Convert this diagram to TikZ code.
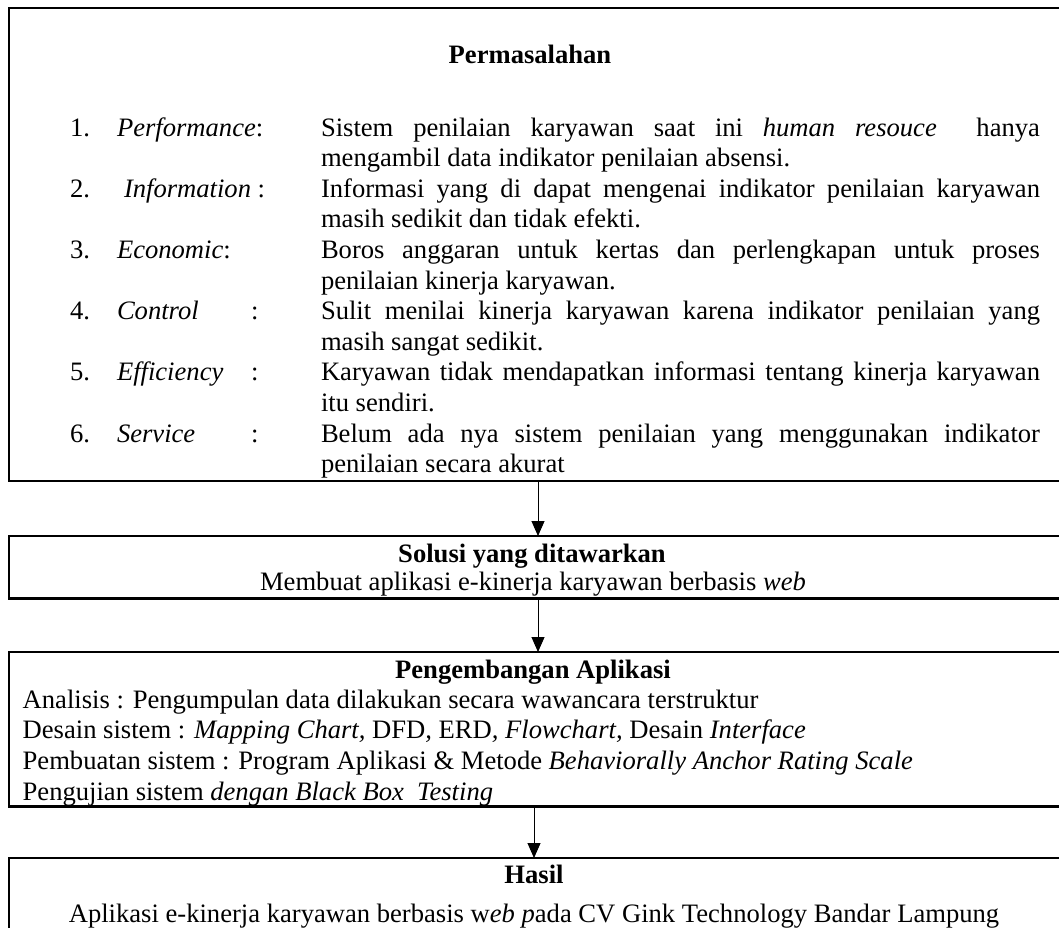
\documentclass[tikz,border=0pt]{standalone}
\usepackage{fontspec}
\setmainfont{Liberation Serif}
\usetikzlibrary{arrows.meta}
\begin{document}
\begin{tikzpicture}[x=1pt,y=-1pt,
  box/.style={draw,line width=2.2pt,anchor=north west,inner sep=0pt,outer sep=0pt},
  txt/.style={inner sep=0pt,outer sep=0pt,anchor=base west,font=\fontsize{26.6}{30.6}\selectfont},
  ctxt/.style={txt,anchor=base},
  btxt/.style={ctxt,font=\fontsize{26.6}{30.6}\selectfont\bfseries},
  arr/.style={line width=1pt,-{Triangle[width=13pt,length=15pt]}}]
\useasboundingbox (0,0) rectangle (1059,927);
\clip (0,0) rectangle (1059,927);
% boxes
\node[box,minimum width=1066pt,minimum height=473.3pt] (b1) at (9,7.7) {};
\node[box,minimum width=1066pt,minimum height=62.5pt] (b2) at (9,536) {};
\node[box,minimum width=1066pt,minimum height=154.5pt] (b3) at (9,652) {};
\node[box,minimum width=1066pt,minimum height=100pt] (b4) at (9,858) {};
% arrows
\coordinate (ax1) at (538,0);
\coordinate (ax3) at (534,0);
\draw[arr] (b1.south -| ax1) -- (b2.north -| ax1);
\draw[arr] (b2.south -| ax1) -- (b3.north -| ax1);
\draw[arr] (b3.south -| ax3) -- (b4.north -| ax3);
% box 1
\node[btxt] (t1) at (530,63) {Permasalahan};
\node[txt] (n1) at (70,136) {1.};
\node[txt] (k1) at (117,136) {\textit{Performance}:};
\node[txt] (d1a) at (321,136) {\makebox[719pt][s]{Sistem penilaian karyawan saat ini \textit{human resouce}\ \ hanya}};
\node[txt] (d1b) at (321,166.6) {mengambil data indikator penilaian absensi.};
\node[txt] (n2) at (70,197.2) {2.};
\node[txt] (k2) at (124,197.2) {\textit{Information} :};
\node[txt] (d2a) at (321,197.2) {\makebox[719pt][s]{Informasi yang di dapat mengenai indikator penilaian karyawan}};
\node[txt] (d2b) at (321,227.8) {masih sedikit dan tidak efekti.};
\node[txt] (n3) at (70,258.4) {3.};
\node[txt] (k3) at (117,258.4) {\textit{Economic}:};
\node[txt] (d3a) at (321,258.4) {\makebox[719pt][s]{Boros anggaran untuk kertas dan perlengkapan untuk proses}};
\node[txt] (d3b) at (321,289) {penilaian kinerja karyawan.};
\node[txt] (n4) at (70,319.6) {4.};
\node[txt] (k4) at (117,319.6) {\textit{Control}};
\node[txt] (c4) at (251,319.6) {:};
\node[txt] (d4a) at (321,319.6) {\makebox[719pt][s]{Sulit menilai kinerja karyawan karena indikator penilaian yang}};
\node[txt] (d4b) at (321,350.2) {masih sangat sedikit.};
\node[txt] (n5) at (70,380.8) {5.};
\node[txt] (k5) at (117,380.8) {\textit{Efficiency}};
\node[txt] (c5) at (251,380.8) {:};
\node[txt] (d5a) at (321,380.8) {\makebox[719pt][s]{Karyawan tidak mendapatkan informasi tentang kinerja karyawan}};
\node[txt] (d5b) at (321,411.4) {itu sendiri.};
\node[txt] (n6) at (70,442) {6.};
\node[txt] (k6) at (117,442) {\textit{Service}};
\node[txt] (c6) at (251,442) {:};
\node[txt] (d6a) at (321,442) {\makebox[719pt][s]{Belum ada nya sistem penilaian yang menggunakan indikator}};
\node[txt] (d6b) at (321,472.6) {penilaian secara akurat};
% box 2
\node[btxt] (t2) at (532,562) {Solusi yang ditawarkan};
\node[ctxt] (s2) at (533,590) {Membuat aplikasi e-kinerja karyawan berbasis \textit{web}};
% box 3
\node[btxt] (t3) at (533,678) {Pengembangan Aplikasi};
\node[txt] (p1) at (22.7,708) {Analisis : Pengumpulan data dilakukan secara wawancara terstruktur};
\node[txt] (p2) at (22.7,738.5) {Desain sistem : \textit{Mapping Chart,} DFD\textit{,} ERD\textit{, Flowchart,} Desain \textit{Interface}};
\node[txt] (p3) at (22.7,769) {Pembuatan sistem : Program Aplikasi \& Metode \textit{Behaviorally Anchor Rating Scale}};
\node[txt] (p4) at (22.7,800) {Pengujian sistem \textit{dengan Black Box\ \ Testing}};
% box 4
\node[btxt] (t4) at (534,883) {Hasil};
\node[ctxt] (s4) at (534,922) {Aplikasi e-kinerja karyawan berbasis w\textit{eb p}ada CV Gink Technology Bandar Lampung};
\end{tikzpicture}
\end{document}
